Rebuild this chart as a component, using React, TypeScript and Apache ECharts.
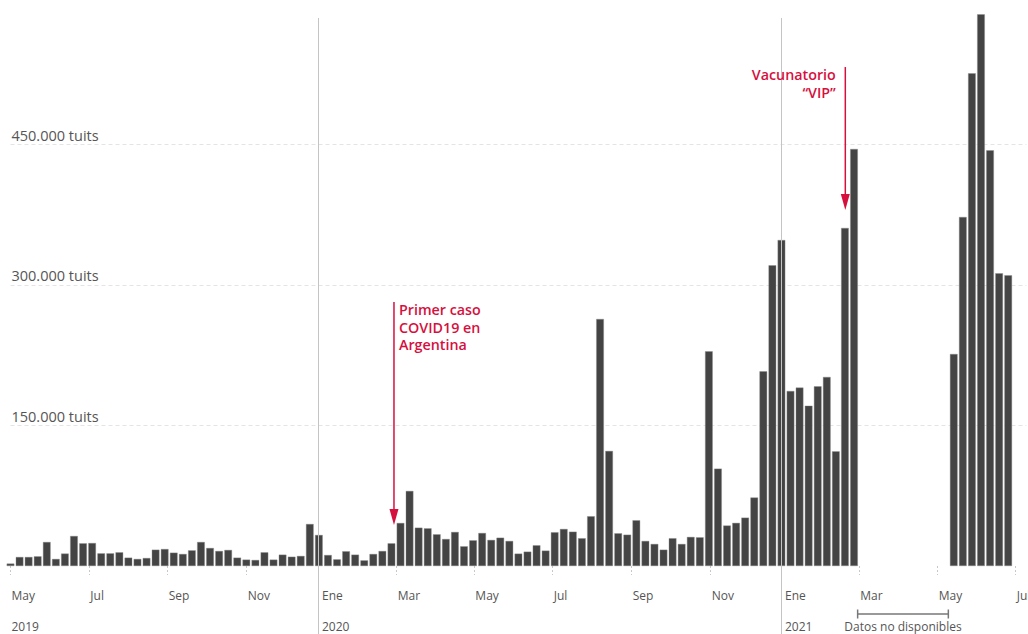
import React, { useEffect, useRef } from "react";
import * as echarts from "echarts";

// Weekly tweet counts (index = week number from the week of 1 May 2019); null = no data
const values: (number | null)[] = [
  2500, 9600, 9600, 10300, 25600, 7500, 13200, 32000, 24200, 24500,
  13500, 13500, 14600, 8900, 7500, 8500, 17400, 18100, 14200, 12800,
  16700, 25600, 19200, 16000, 17100, 8900, 6800, 6400, 14600, 6800,
  12100, 9900, 10700, 44800, 33100, 11700, 7100, 15700, 12100, 6000,
  12800, 16000, 24200, 45900, 80100, 40900, 40200, 33800, 28800, 36300,
  21000, 27400, 35200, 27800, 30200, 26700, 13200, 15300, 22100, 16400,
  36000, 39500, 36600, 29600, 53100, 263700, 122800, 34900, 33400, 48800,
  26700, 23500, 17400, 29600, 23500, 31000, 30600, 229200, 103900, 43200,
  46000, 51600, 73100, 207800, 321000, 348000, 186800, 190400, 171100, 191800,
  201800, 122400, 360900, 445200, null, null, null, null, null, null,
  null, null, null, null, 226300, 372600, 526000, 589000, 443800, 312500,
  310400,
];

// Month ticks (in week units on the x scale) and their labels
const monthTickPos = [0, 8.69, 17.33, 26.04, 33.9, 42.58, 51.14, 59.78, 68.49, 77.2, 84.95, 93.58, 102.23, 110.83];
const monthTickLabels = ["May", "Jul", "Sep", "Nov", "Ene", "Mar", "May", "Jul", "Sep", "Nov", "Ene", "Mar", "May", "Jul"];
const yearPos = [0, 33.9, 84.95];
const yearLabels = ["2019", "2020", "2021"];
const yearLinePos = [33.9, 84.95];

const yMax = 600000;
const yInterval = 150000;
const xMin = 0;
const xMax = 112;

const annotations = [
  { text: "Primer caso\nCOVID19 en\nArgentina", x: 42.28, from: 281800, to: 43800, side: "right" },
  { text: "Vacunatorio\n\u201cVIP\u201d", x: 92.04, from: 532700, to: 380000, side: "left" },
];
const noData = { from: 93.4, to: 103.4, label: "Datos no disponibles" };

const FONT = "'Open Sans', 'Noto Sans', sans-serif";
const RED = "#d6103e";
const GRAY_TEXT = "#555";

// layout targets (px): position of week 0 and spacing per week
const X0 = 10.5;
const PITCH = 9.07;

export default function App() {
  const ref = useRef<HTMLDivElement>(null);

  useEffect(() => {
    if (!ref.current) return;
    const chart = echarts.init(ref.current, undefined, { renderer: "svg" });

    const data = values
      .map((v, i) => (v == null ? null : [i, v]))
      .filter((d) => d !== null);

    const labelRich = {
      n: { padding: [0, 0, 0, 1], fontSize: 12, color: GRAY_TEXT, fontFamily: FONT },
      e: { padding: [0, 0, 0, 4], fontSize: 12, color: GRAY_TEXT, fontFamily: FONT },
    };

    let gl = X0;
    let gw = (xMax - xMin) * PITCH;

    const makeOption = (): any => ({
      animation: false,
      grid: {
        left: gl,
        right: 1028 - (gl + gw),
        top: 4,
        bottom: 68,
        containLabel: false,
        outerBoundsMode: "none",
      },
      xAxis: [
        {
          type: "value",
          min: xMin,
          max: xMax,
          offset: 5,
          axisLine: { show: false },
          splitLine: { show: false },
          axisTick: {
            show: true,
            length: 9,
            customValues: monthTickPos,
            lineStyle: { color: "#c8c8c8", type: [2, 2], width: 1 },
          },
          axisLabel: {
            show: true,
            customValues: monthTickPos,
            margin: 18,
            align: "left",
            formatter: (v: number) => {
              const idx = monthTickPos.indexOf(v);
              const t = idx >= 0 ? monthTickLabels[idx] : "";
              return t === "Ene" ? `{e|${t}}` : `{n|${t}}`;
            },
            rich: labelRich,
          },
        },
        {
          type: "value",
          min: xMin,
          max: xMax,
          position: "bottom",
          offset: 5,
          axisLine: { show: false },
          splitLine: { show: false },
          axisTick: { show: false },
          axisLabel: {
            show: true,
            customValues: yearPos,
            margin: 49,
            align: "left",
            formatter: (v: number) => {
              const idx = yearPos.indexOf(v);
              const t = idx >= 0 ? yearLabels[idx] : "";
              return idx > 0 ? `{e|${t}}` : `{n|${t}}`;
            },
            rich: labelRich,
          },
        },
      ],
      yAxis: {
        type: "value",
        min: 0,
        max: yMax,
        interval: yInterval,
        axisLine: { show: false },
        axisTick: { show: false },
        splitLine: {
          show: true,
          showMinLine: false,
          showMaxLine: false,
          lineStyle: { color: "#e4e4e4", type: [4, 3], width: 1 },
        },
        axisLabel: {
          inside: true,
          margin: 1,
          showMinLabel: false,
          showMaxLabel: false,
          verticalAlign: "bottom",
          padding: [0, 0, 2, 0],
          color: GRAY_TEXT,
          fontSize: 14.5,
          fontFamily: FONT,
          formatter: (v: number) =>
            v === 0 || v === yMax ? "" : `${Math.round(v / 1000)}.000 tuits`,
        },
      },
      series: [
        {
          type: "bar",
          xAxisIndex: 0,
          yAxisIndex: 0,
          data,
          barWidth: 7.6,
          clip: false,
          itemStyle: { color: "#444444", borderColor: "#8a8a8a", borderWidth: 0.4 },
        },
      ],
    });

    const px = (x: number, y: number) =>
      chart.convertToPixel({ gridIndex: 0 } as any, [x, y]) as number[];

    // calibrate the grid so that week 0 sits at X0 and each week spans PITCH px
    chart.setOption(makeOption(), true);
    for (let k = 0; k < 2; k++) {
      const p0 = px(0, 0)[0];
      const p1 = px(110, 0)[0];
      const s = (p1 - p0) / 110;
      if (!isFinite(s) || s <= 0) break;
      const m = -(p0 - gl) / s;
      const M = m + gw / s;
      const ngw = (M - m) * PITCH;
      const ngl = X0 + m * PITCH;
      if (Math.abs(ngw - gw) < 0.05 && Math.abs(ngl - gl) < 0.05) break;
      gw = ngw;
      gl = ngl;
      chart.setOption(makeOption(), true);
    }

    const graphics: any[] = [];

    yearLinePos.forEach((p) => {
      const x = Math.round(px(p, 0)[0]) + 0.5;
      graphics.push({
        type: "line",
        silent: true,
        z: 5,
        shape: { x1: x, y1: 18, x2: x, y2: 634 },
        style: { stroke: "#c4c4c4", lineWidth: 1 },
      });
    });

    annotations.forEach((a) => {
      const [x, y1] = px(a.x, a.from);
      const y2 = px(a.x, a.to)[1];
      graphics.push({
        type: "line",
        silent: true,
        z: 10,
        shape: { x1: x, y1, x2: x, y2: y2 - 10 },
        style: { stroke: RED, lineWidth: 1.5 },
      });
      graphics.push({
        type: "polygon",
        silent: true,
        z: 10,
        shape: { points: [[x - 4.5, y2 - 16], [x + 4.5, y2 - 16], [x, y2]] },
        style: { fill: RED },
      });
      graphics.push({
        type: "text",
        silent: true,
        z: 10,
        x: a.side === "right" ? x + 5 : x - 9.5,
        y: y1 - 1,
        style: {
          text: a.text,
          fill: RED,
          font: `600 14.3px ${FONT}`,
          lineHeight: 17.5,
          align: a.side === "right" ? "left" : "right",
          verticalAlign: "top",
        },
      });
    });

    const bx1 = px(noData.from, 0)[0];
    const bx2 = px(noData.to, 0)[0];
    const by = 614;
    graphics.push(
      { type: "line", silent: true, shape: { x1: bx1, y1: by, x2: bx2, y2: by }, style: { stroke: "#777", lineWidth: 1.5 } },
      { type: "line", silent: true, shape: { x1: bx1, y1: by - 4.5, x2: bx1, y2: by + 4.5 }, style: { stroke: "#777", lineWidth: 1.5 } },
      { type: "line", silent: true, shape: { x1: bx2, y1: by - 4.5, x2: bx2, y2: by + 4.5 }, style: { stroke: "#777", lineWidth: 1.5 } },
      {
        type: "text",
        silent: true,
        x: (bx1 + bx2) / 2,
        y: 626.5,
        style: {
          text: noData.label,
          fill: GRAY_TEXT,
          font: `12px ${FONT}`,
          align: "center",
          verticalAlign: "middle",
        },
      }
    );

    chart.setOption({ graphic: graphics });

    return () => chart.dispose();
  }, []);

  return (
    <div
      ref={ref}
      style={{ position: "fixed", left: 0, top: 0, width: 1028, height: 634, background: "#fff" }}
    />
  );
}
